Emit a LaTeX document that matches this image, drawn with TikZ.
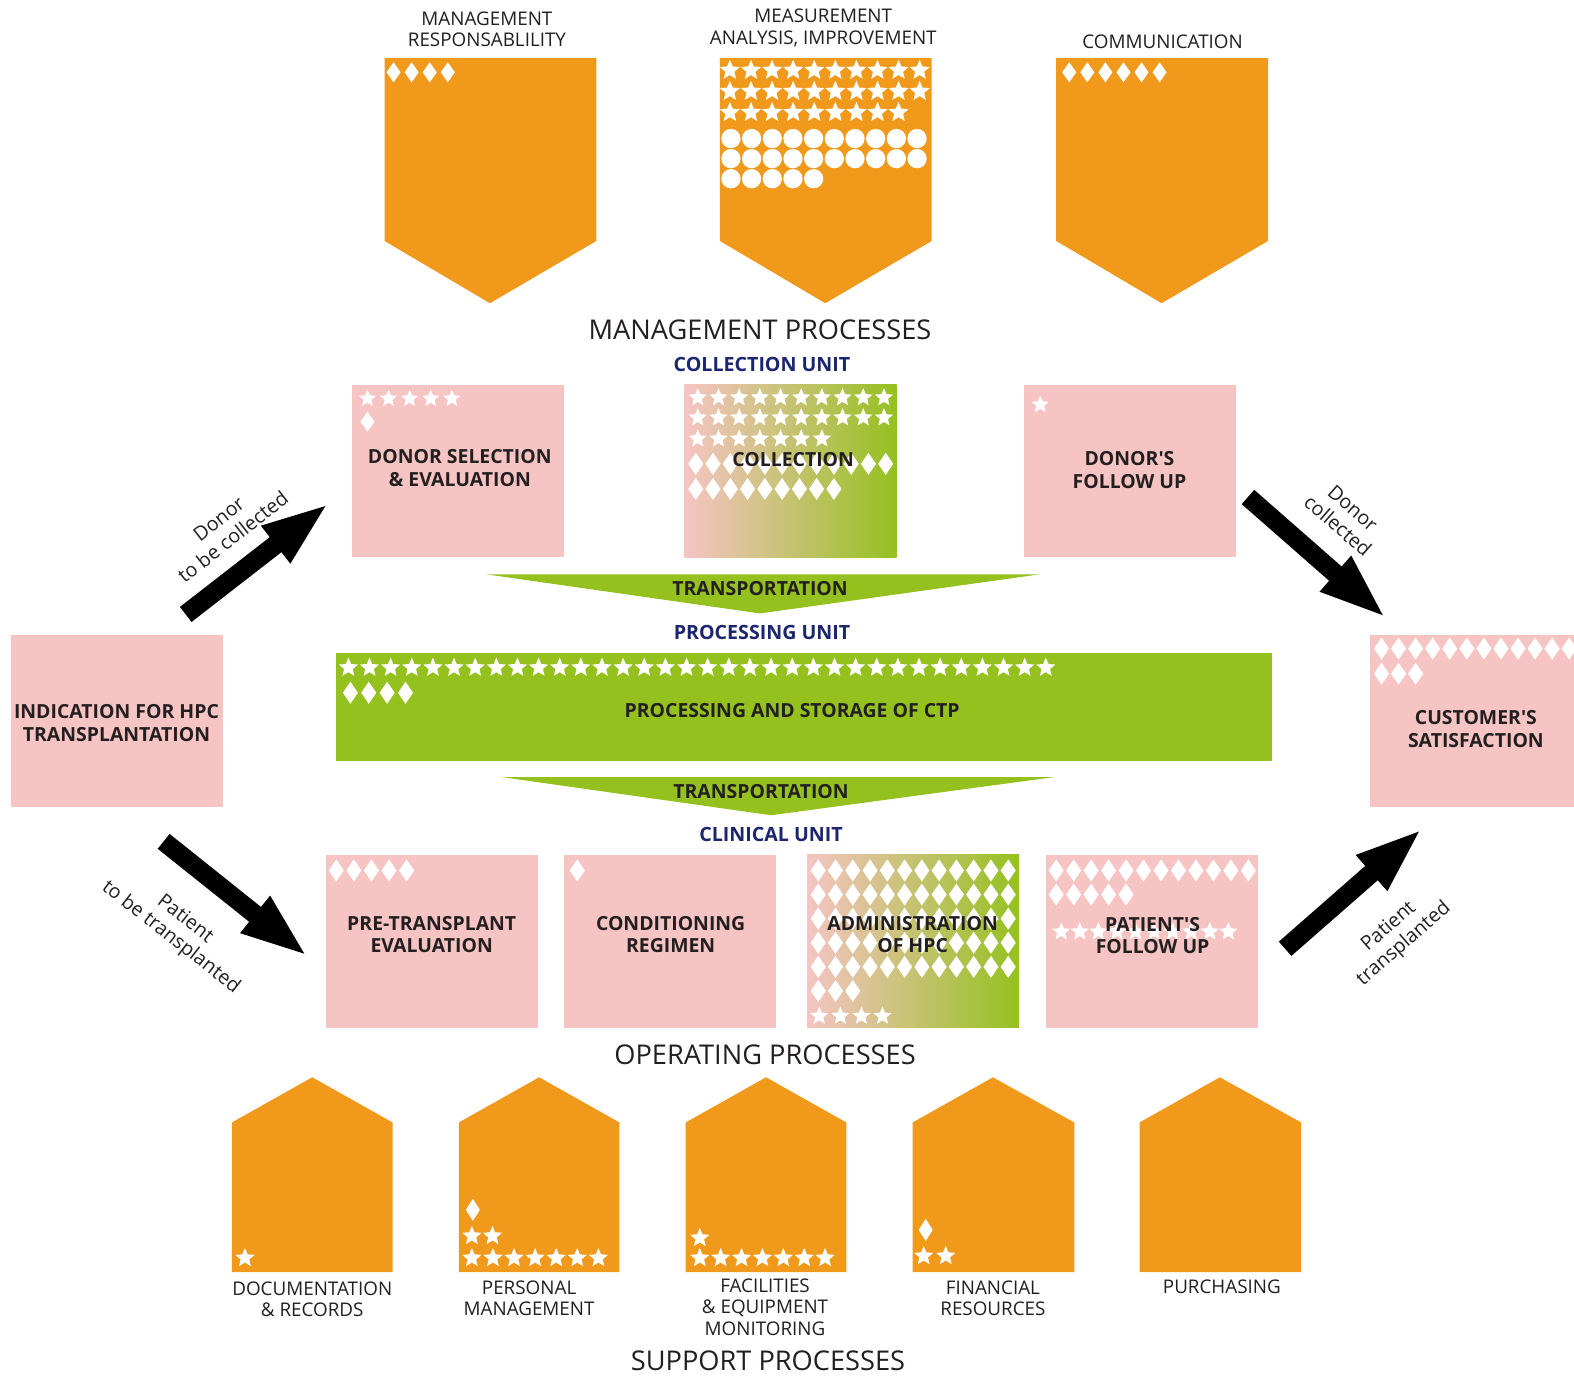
\documentclass[tikz,border=0pt]{standalone}
\usepackage{fontspec}
\setmainfont{Open Sans}
\usetikzlibrary{arrows.meta}
\definecolor{orangec}{RGB}{240,153,27}
\definecolor{pinkc}{RGB}{245,196,195}
\definecolor{greenc}{RGB}{149,193,31}
\definecolor{navyc}{RGB}{28,38,110}
\definecolor{txtc}{RGB}{35,31,32}
\newcommand\mystar[3]{\fill[white,shift={(#1,#2)}] (-90:#3) \foreach \k in {0,...,4}{ -- ({-54+72*\k}:{0.45*#3}) -- ({-18+72*\k}:#3)} -- cycle;}
\newcommand\mydiam[4]{\fill[white] (#1,#2) +(0,-#4) -- +(#3,0) -- +(0,#4) -- +(-#3,0) -- cycle;}
\tikzset{
  pbox/.style={fill=pinkc,minimum width=106bp,minimum height=86.3bp,inner sep=0pt},
  gbox/.style={pbox,left color=pinkc,right color=greenc},
  boxtxt/.style={font=\fontsize{9.75}{11.25}\selectfont\bfseries,align=center,text=txtc},
  smalltxt/.style={font=\fontsize{9.45}{10.85}\selectfont,align=center,text=txtc},
  bigtxt/.style={font=\fontsize{13.65}{16}\selectfont,text=txtc},
  unittxt/.style={font=\fontsize{9.85}{12}\selectfont\bfseries,text=navyc},
  arrtxt/.style={font=\fontsize{9.85}{11.55}\selectfont,align=center,text=txtc},
  bigarrow/.style={draw=black,line width=9.5bp,-{Triangle[length=34bp,width=21bp]}},
}
\begin{document}
\begin{tikzpicture}[x=0.502bp,y=-0.502bp]
\useasboundingbox[fill=white] (0bp,0bp) rectangle (787bp,-688bp);

% ---------- management processes ----------
\fill[orangec] (383,58) -- (594,58) -- (594,240) -- (488,302) -- (383,240) -- cycle;
\fill[orangec] (717,58) -- (928,58) -- (928,240) -- (822,302) -- (717,240) -- cycle;
\fill[orangec] (1052,58) -- (1263,58) -- (1263,240) -- (1157,302) -- (1052,240) -- cycle;
\foreach \i in {0,...,3} {\mydiam{{392+18*\i}}{72}{7}{10}}
\foreach \i in {0,...,5} {\mydiam{{1065+18*\i}}{72}{7}{10}}
\foreach \i in {0,...,9} {\mystar{{727+21*\i}}{70}{10.5} \mystar{{727+21*\i}}{91}{10.5}}
\foreach \i in {0,...,8} {\mystar{{727+21*\i}}{112}{10.5}}
\foreach \i in {0,...,9} {\fill[white] ({728+20.6*\i},138) circle[radius=4.82bp]; \fill[white] ({728+20.6*\i},158) circle[radius=4.82bp];}
\foreach \i in {0,...,4} {\fill[white] ({728+20.6*\i},178) circle[radius=4.82bp];}
\node[smalltxt] (mr) at (485,29) {MANAGEMENT\\RESPONSABLILITY};
\node[smalltxt] (ma) at (820,28) {MEASUREMENT\\ANALYSIS, IMPROVEMENT};
\node[smalltxt] (co) at (1158,42) {COMMUNICATION};
\node[bigtxt] (mp) at (757,328) {MANAGEMENT PROCESSES};
\node[unittxt] (cu) at (759,363) {COLLECTION UNIT};

% ---------- collection unit ----------
\node[pbox] (dse) at (456,469) {};
\node[gbox] (col) at (787.5,469) {};
\node[pbox] (dfu) at (1125.5,469) {};
\foreach \i in {0,...,4} {\mystar{{366+21*\i}}{397}{9}}
\mydiam{366}{420}{7}{10}
\foreach \i in {0,...,9} {\mystar{{695+20.6*\i}}{396}{9.5} \mystar{{695+20.6*\i}}{416}{9.5}}
\foreach \i in {0,...,6} {\mystar{{695+20.6*\i}}{437}{9.5}}
\foreach \i in {0,...,11} {\mydiam{{693+17.2*\i}}{462}{7.5}{11}}
\foreach \i in {0,...,8} {\mydiam{{693+17.2*\i}}{487}{7.5}{11}}
\mystar{1036}{403}{9}
\node[boxtxt] (dset) at (458,466) {DONOR SELECTION\\\& EVALUATION};
\node[boxtxt] (colt) at (790,458) {COLLECTION};
\node[boxtxt] (dfut) at (1125,468) {DONOR\textquotesingle S\\FOLLOW UP};

% ---------- transportation 1 ----------
\fill[greenc] (484,572) -- (1036,572) -- (757,611) -- cycle;
\node[boxtxt] (tr1) at (757,586) {TRANSPORTATION};
\node[unittxt] (pu) at (759,630) {PROCESSING UNIT};

% ---------- processing ----------
\node[fill=greenc,minimum width=468bp,minimum height=54.2bp,inner sep=0pt] (proc) at (801,704) {};
\foreach \i in {0,...,33} {\mystar{{347+21.05*\i}}{665}{10}}
\foreach \i in {0,...,3} {\mydiam{{349+18.3*\i}}{690}{7.5}{11}}
\node[boxtxt] (proct) at (789,708) {PROCESSING AND STORAGE OF CTP};

% ---------- transportation 2 ----------
\fill[greenc] (500,774) -- (1050,774) -- (768,812) -- cycle;
\node[boxtxt] (tr2) at (758,788) {TRANSPORTATION};
\node[unittxt] (cl) at (768,831) {CLINICAL UNIT};

% ---------- clinical unit ----------
\node[pbox] (pte) at (430.5,937.5) {};
\node[pbox] (cor) at (667.5,937.5) {};
\node[gbox] (adm) at (909.5,937.5) {};
\node[pbox] (pfu) at (1147.5,937.5) {};
\foreach \i in {0,...,4} {\mydiam{{335+17.5*\i}}{867}{7.5}{11}}
\mydiam{575}{867}{7.5}{11}
\foreach \j in {0,...,4} {\foreach \i in {0,...,11} {\mydiam{{815+17.2*\i}}{{867+24*\j}}{7.5}{11}}}
\foreach \i in {0,...,2} {\mydiam{{815+17.2*\i}}{987}{7.5}{11}}
\foreach \i in {0,...,3} {\mystar{{816+21*\i}}{1012}{9.5}}
\foreach \i in {0,...,11} {\mydiam{{1052+17.4*\i}}{867}{7.5}{11}}
\foreach \i in {0,...,4} {\mydiam{{1052+17.4*\i}}{891}{7.5}{11}}
\foreach \i in {0,...,9} {\mystar{{1057+18.5*\i}}{928}{9.5}}
\node[boxtxt] (ptet) at (430,931) {PRE-TRANSPLANT\\EVALUATION};
\node[boxtxt] (cort) at (668,931) {CONDITIONING\\REGIMEN};
\node[boxtxt] (admt) at (909,931) {ADMINISTRATION\\OF HPC};
\node[boxtxt] (pfut) at (1148,932) {PATIENT\textquotesingle S\\FOLLOW UP};
\node[bigtxt] (op) at (762,1051) {OPERATING PROCESSES};

% ---------- side boxes ----------
\node[pbox] (ind) at (117,718) {};
\node[boxtxt] (indt) at (116,720) {INDICATION FOR HPC\\TRANSPLANTATION};
\node[pbox] (cus) at (1470.5,718) {};
\foreach \i in {0,...,11} {\mydiam{{1376+17*\i}}{646}{7.5}{11}}
\foreach \i in {0,...,2} {\mydiam{{1376+17*\i}}{671}{7.5}{11}}
\node[boxtxt] (cust) at (1470,726) {CUSTOMER\textquotesingle S\\SATISFACTION};

% ---------- arrows ----------
\coordinate (a1s) at (185,612); \coordinate (a1e) at (328,501);
\coordinate (a2s) at (1243,495); \coordinate (a2e) at (1381,616);
\coordinate (a3s) at (163,838); \coordinate (a3e) at (307,953);
\coordinate (a4s) at (1280,945); \coordinate (a4e) at (1417,825);
\draw[bigarrow] (a1s) -- (a1e);
\draw[bigarrow] (a2s) -- (a2e);
\draw[bigarrow] (a3s) -- (a3e);
\draw[bigarrow] (a4s) -- (a4e);
\node[arrtxt,rotate=38] (l1) at (225,526) {Donor\\to be collected};
\node[arrtxt,rotate=-41] (l2) at (1340,515) {Donor\\collected};
\node[arrtxt,rotate=-38] (l3) at (177,925) {Patient\\to be transplanted};
\node[arrtxt,rotate=41] (l4) at (1391,932) {Patient\\transplanted};

% ---------- support processes ----------
\fill[orangec] (231,1267) -- (231,1118) -- (311,1073) -- (391,1118) -- (391,1267) -- cycle;
\fill[orangec] (457,1267) -- (457,1118) -- (537,1073) -- (617,1118) -- (617,1267) -- cycle;
\fill[orangec] (683,1267) -- (683,1118) -- (763,1073) -- (843,1118) -- (843,1267) -- cycle;
\fill[orangec] (909,1267) -- (909,1118) -- (989,1073) -- (1070,1118) -- (1070,1267) -- cycle;
\fill[orangec] (1135,1267) -- (1135,1118) -- (1215,1073) -- (1296,1118) -- (1296,1267) -- cycle;
\mystar{244}{1253}{10}
\mydiam{471}{1205}{7}{11}
\foreach \i in {0,...,1} {\mystar{{470+20.5*\i}}{1231}{10}}
\foreach \i in {0,...,6} {\mystar{{470+21*\i}}{1253}{10}}
\mystar{697}{1233}{10}
\foreach \i in {0,...,6} {\mystar{{697+20.8*\i}}{1253}{10}}
\mydiam{922}{1225}{7}{11}
\foreach \i in {0,...,1} {\mystar{{920+22*\i}}{1251}{10}}
\node[smalltxt] (dr) at (311,1294) {DOCUMENTATION\\\& RECORDS};
\node[smalltxt] (pm) at (527,1293) {PERSONAL\\MANAGEMENT};
\node[smalltxt] (fe) at (762,1302) {FACILITIES\\\& EQUIPMENT\\MONITORING};
\node[smalltxt] (fr) at (989,1293) {FINANCIAL\\RESOURCES};
\node[smalltxt] (pu2) at (1217,1282) {PURCHASING};
\node[bigtxt] (sp) at (765,1355) {SUPPORT PROCESSES};
\end{tikzpicture}
\end{document}
